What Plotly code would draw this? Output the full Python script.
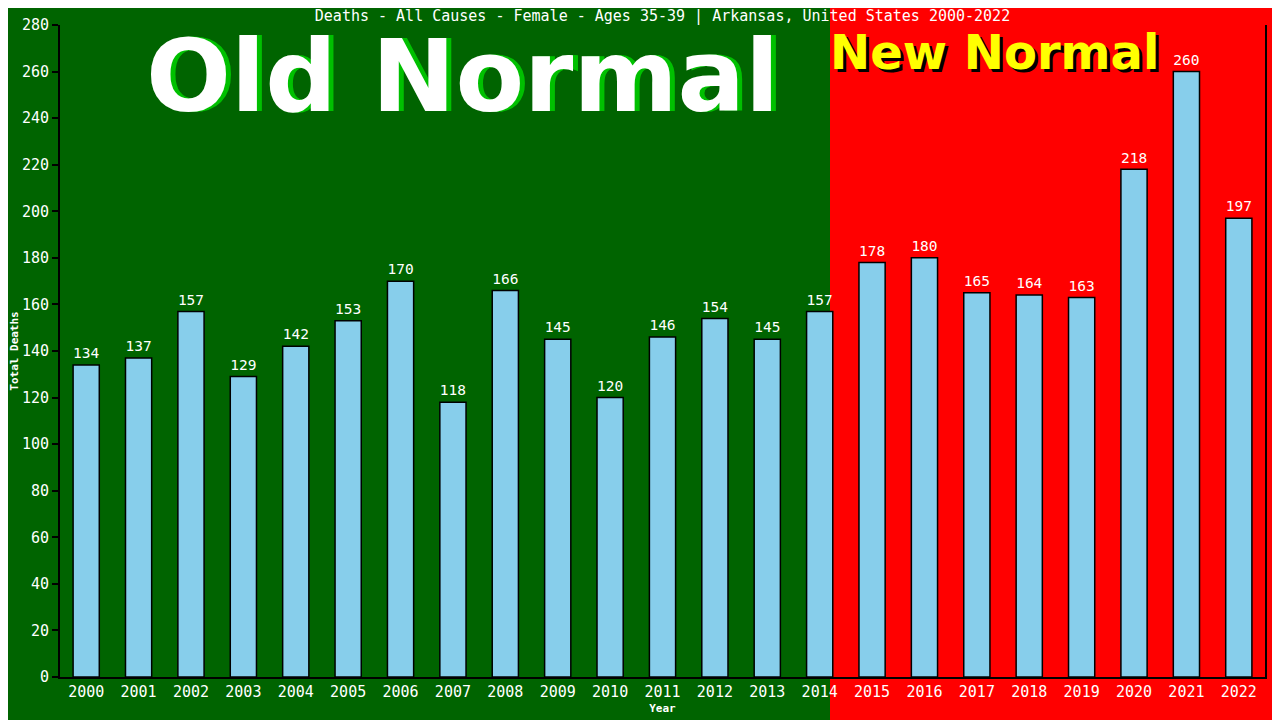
import plotly.graph_objects as go

years = [str(y) for y in range(2000, 2023)]
deaths = [134, 137, 157, 129, 142, 153, 170, 118, 166, 145, 120, 146,
          154, 145, 157, 178, 180, 165, 164, 163, 218, 260, 197]

title_text = "Deaths - All Causes - Female - Ages 35-39 | Arkansas, United States 2000-2022"
mono = "DejaVu Sans Mono"

fig = go.Figure()
fig.add_trace(go.Bar(
    x=years, y=deaths,
    marker=dict(color="#87CEEB", line=dict(color="black", width=1.5)),
    text=deaths, textposition="outside", cliponaxis=False,
    textfont=dict(family=mono, size=15, color="white"),
    width=0.5,
))

# background: green for old normal, red for new normal
split = (830 - 60) / 1205
fig.add_shape(type="rect", xref="paper", yref="paper", x0=-1, x1=split, y0=-1, y1=2,
              fillcolor="#006400", line_width=0, layer="below")


def py(px):
    # page pixel row -> paper y
    return (677 - px) / 652


def pxx(px):
    # page pixel column -> paper x
    return (px - 60) / 1205


# big labels with shadow
fig.add_annotation(text="<b>Old Normal</b>", xref="paper", yref="paper", x=pxx(467), y=py(77),
                   xanchor="center", yanchor="middle", showarrow=False,
                   font=dict(family="DejaVu Sans", size=100, color="#00C000"))
fig.add_annotation(text="<b>Old Normal</b>", xref="paper", yref="paper", x=pxx(462), y=py(76),
                   xanchor="center", yanchor="middle", showarrow=False,
                   font=dict(family="DejaVu Sans", size=100, color="white"))
fig.add_annotation(text="<b>New Normal</b>", xref="paper", yref="paper", x=pxx(997), y=py(55),
                   xanchor="center", yanchor="middle", showarrow=False,
                   font=dict(family="DejaVu Sans", size=48, color="black"))
fig.add_annotation(text="<b>New Normal</b>", xref="paper", yref="paper", x=pxx(994), y=py(52),
                   xanchor="center", yanchor="middle", showarrow=False,
                   font=dict(family="DejaVu Sans", size=48, color="#FFFF00"))

# the page is offset by the body margin, so margins are shifted by 8px
fig.update_layout(
    width=1280, height=720,
    margin=dict(l=52, r=23, t=17, b=51, autoexpand=False),
    paper_bgcolor="#FF0000", plot_bgcolor="rgba(0,0,0,0)",
    title=dict(text=title_text, x=0.5, xref="paper", y=1 - 8 / 720, yanchor="middle",
               font=dict(family=mono, size=15, color="white")),
    showlegend=False,
    font=dict(family=mono, color="white"),
)
fig.update_xaxes(
    type="category", showgrid=False, showline=True, linecolor="black", linewidth=2,
    ticks="", automargin=False, tickfont=dict(family=mono, size=15, color="white"),
    title=dict(text="<b>Year</b>", font=dict(family=mono, size=11, color="white"), standoff=4),
)
fig.update_yaxes(
    range=[0, 280], dtick=20, showgrid=False, zeroline=False, automargin=False,
    showline=True, linecolor="black", linewidth=2, mirror=True,
    ticks="outside", tickcolor="black", ticklen=6, tickwidth=2,
    tickfont=dict(family=mono, size=15, color="white"),
    title=dict(text="<b>Total Deaths</b>", font=dict(family=mono, size=11, color="white"), standoff=4),
)

fig.write_html("out.html")
